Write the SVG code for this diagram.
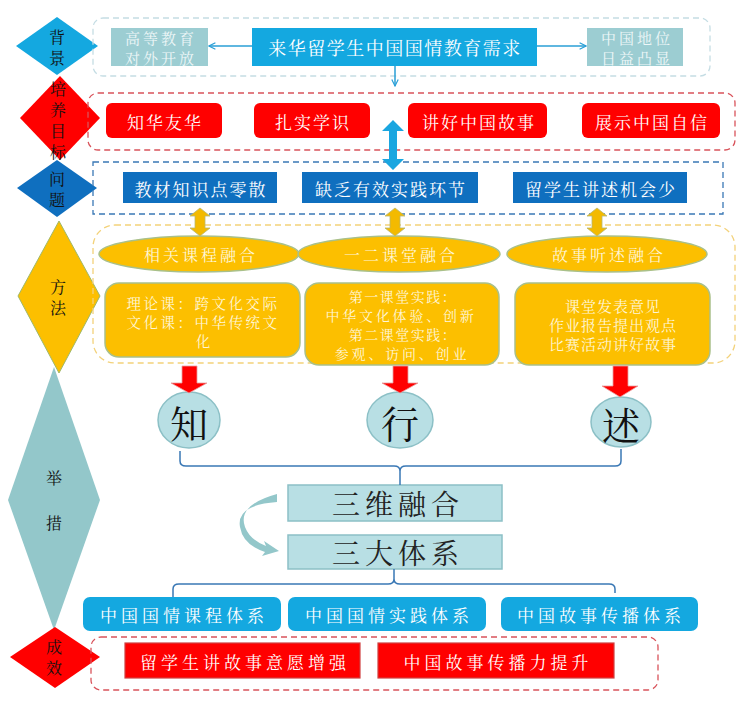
<svg xmlns="http://www.w3.org/2000/svg" width="748" height="705" viewBox="0 0 748 705">
<style>
text{font-family:"Noto Serif CJK SC","Noto Sans CJK SC",serif;text-anchor:middle;dominant-baseline:central}
.lbl{font-size:16px;fill:#111}
.w{fill:#fff}
.lt{fill:#eef7f8}
.ly{fill:#fff6d6}
.blue{fill:#14a8e0}
.teal{fill:#9ccdd2}
.red{fill:#ff0000}
.dblue{fill:#0f6fbf}
.yel{fill:#fcbf00}
.pale{fill:#b8dfe4;stroke:#8cc0c6;stroke-width:1.5}
.thin{fill:none;stroke:#2a9fd6;stroke-width:1.5}
.brace{fill:none;stroke:#3a78b5;stroke-width:1.5}
</style>
<defs>
<marker id="ah" viewBox="0 0 10 10" refX="9" refY="5" markerWidth="8" markerHeight="8" orient="auto-start-reverse" markerUnits="userSpaceOnUse">
<polyline points="1,1 9,5 1,9" fill="none" stroke="#2a9fd6" stroke-width="1.5"/>
</marker>
</defs>

<!-- left diamonds -->
<g id="d-beijing"><polygon points="57,17 98,46 57,75 16,46" class="blue"/><text x="57" y="36" class="lbl">背</text><text x="57" y="57" class="lbl">景</text></g>
<g id="d-peiyang"><polygon points="60,76 100,118 60,160 20,118" class="red"/><text x="58" y="88" class="lbl">培</text><text x="58" y="109" class="lbl">养</text><text x="58" y="130" class="lbl">目</text><text x="58" y="151" class="lbl">标</text></g>
<g id="d-wenti"><polygon points="57,160 97,188 57,217 17,188" class="dblue"/><text x="57" y="178" class="lbl">问</text><text x="57" y="199" class="lbl">题</text></g>
<g id="d-fangfa"><polygon points="59,221 100,296 59,373 18,296" class="yel" stroke="#9fb86a" stroke-width="1"/><text x="58" y="286" class="lbl">方</text><text x="58" y="307" class="lbl">法</text></g>
<g id="d-jucuo"><polygon points="54,367 100,500 54,630 8,500" fill="#93c7ca"/><text x="54" y="477" class="lbl">举</text><text x="54" y="522" class="lbl">措</text></g>
<g id="d-chengxiao"><polygon points="55,627 100,657 55,688 10,657" class="red"/><text x="54" y="646" class="lbl">成</text><text x="54" y="667" class="lbl">效</text></g>

<!-- group frames -->
<g id="frames" fill="none" stroke-width="1.3">
<rect x="93" y="18" width="617" height="58" rx="10" stroke="#c5dde4" stroke-dasharray="6,4"/>
<rect x="88" y="93" width="647" height="57" rx="10" stroke="#d9535b" stroke-dasharray="6,4"/>
<rect x="93" y="162" width="630" height="52" stroke="#3a78b5" stroke-dasharray="6,4"/>
<rect x="93" y="225" width="642" height="138" rx="22" stroke="#f3d27a" stroke-dasharray="6,4"/>
<rect x="91" y="637" width="567" height="53" rx="10" stroke="#d9535b" stroke-dasharray="6,4"/>
</g>

<!-- background -->
<g id="n-gaodeng"><rect x="111" y="28" width="97" height="38" class="teal"/><text x="161" y="37" font-size="15" class="lt" letter-spacing="3">高等教育</text><text x="161" y="57" font-size="15" class="lt" letter-spacing="3">对外开放</text></g>
<g id="n-xuqiu"><rect x="252" y="28" width="285" height="38" class="blue"/><text x="395" y="47" font-size="18" class="w" letter-spacing="1.5">来华留学生中国国情教育需求</text></g>
<g id="n-diwei"><rect x="587" y="28" width="96" height="38" class="teal"/><text x="637" y="37" font-size="15" class="lt" letter-spacing="3">中国地位</text><text x="637" y="57" font-size="15" class="lt" letter-spacing="3">日益凸显</text></g>

<!-- goals -->
<g id="n-zhihua"><rect x="106" y="103" width="116" height="35" rx="6" class="red"/><text x="165" y="121" font-size="17" class="w" letter-spacing="2">知华友华</text></g>
<g id="n-zhashi"><rect x="254" y="103" width="116" height="35" rx="6" class="red"/><text x="313" y="121" font-size="17" class="w" letter-spacing="2">扎实学识</text></g>
<g id="n-jianghao"><rect x="408" y="103" width="139" height="35" rx="6" class="red"/><text x="479" y="121" font-size="17" class="w" letter-spacing="2">讲好中国故事</text></g>
<g id="n-zhanshi"><rect x="582" y="103" width="138" height="35" rx="6" class="red"/><text x="652" y="121" font-size="17" class="w" letter-spacing="2">展示中国自信</text></g>

<!-- problems -->
<g id="n-lingsan"><rect x="123" y="172" width="154" height="31" class="dblue"/><text x="201" y="188" font-size="17" class="w" letter-spacing="2">教材知识点零散</text></g>
<g id="n-queshao"><rect x="302" y="172" width="176" height="31" class="dblue"/><text x="391" y="188" font-size="17" class="w" letter-spacing="2">缺乏有效实践环节</text></g>
<g id="n-jishao"><rect x="513" y="172" width="174" height="31" class="dblue"/><text x="601" y="188" font-size="17" class="w" letter-spacing="2">留学生讲述机会少</text></g>

<!-- methods -->
<g id="n-kecheng"><ellipse cx="199" cy="254" rx="100" ry="18" class="yel" stroke="#a9c08a" stroke-width="1.5"/><text x="201" y="254" font-size="16" class="ly" letter-spacing="3">相关课程融合</text></g>
<g id="n-ketang"><ellipse cx="399" cy="254" rx="101" ry="18" class="yel" stroke="#a9c08a" stroke-width="1.5"/><text x="401" y="254" font-size="16" class="ly" letter-spacing="3">一二课堂融合</text></g>
<g id="n-tingshu"><ellipse cx="607" cy="254" rx="100" ry="18" class="yel" stroke="#a9c08a" stroke-width="1.5"/><text x="609" y="254" font-size="16" class="ly" letter-spacing="3">故事听述融合</text></g>

<g id="n-box1"><rect x="105" y="283" width="195" height="74" rx="14" class="yel" stroke="#a9c08a" stroke-width="1.5"/>
<text x="203" y="302" font-size="14.5" class="ly" letter-spacing="2.5">理论课：跨文化交际</text>
<text x="203" y="321" font-size="14.5" class="ly" letter-spacing="2.5">文化课：中华传统文</text>
<text x="203" y="340" font-size="14.5" class="ly">化</text></g>
<g id="n-box2"><rect x="305" y="283" width="194" height="82" rx="14" class="yel" stroke="#a9c08a" stroke-width="1.5"/>
<text x="403" y="296" font-size="14" class="ly" letter-spacing="1.5">第一课堂实践：</text>
<text x="401" y="315" font-size="14" class="ly" letter-spacing="2.8">中华文化体验、创新</text>
<text x="403" y="334" font-size="14" class="ly" letter-spacing="1.5">第二课堂实践：</text>
<text x="402" y="353" font-size="14" class="ly" letter-spacing="2.8">参观、访问、创业</text></g>
<g id="n-box3"><rect x="515" y="283" width="195" height="82" rx="14" class="yel" stroke="#a9c08a" stroke-width="1.5"/>
<text x="613" y="305" font-size="15" class="ly" letter-spacing="1">课堂发表意见</text>
<text x="613" y="324" font-size="15" class="ly" letter-spacing="1">作业报告提出观点</text>
<text x="613" y="343" font-size="15" class="ly" letter-spacing="1">比赛活动讲好故事</text></g>

<!-- zhi xing shu -->
<g id="n-zhi"><ellipse cx="189" cy="420" rx="31" ry="28" class="pale"/><text x="189" y="421" font-size="38" fill="#111">知</text></g>
<g id="n-xing"><ellipse cx="400" cy="420" rx="33" ry="28" class="pale"/><text x="400" y="421" font-size="38" fill="#111">行</text></g>
<g id="n-shu"><ellipse cx="621" cy="422" rx="30" ry="25" class="pale"/><text x="621" y="423" font-size="38" fill="#111">述</text></g>

<g id="n-sanwei"><rect x="288" y="485" width="214" height="36" class="pale"/><text x="398" y="503" font-size="28" fill="#222" letter-spacing="5">三维融合</text></g>
<g id="n-sanda"><rect x="288" y="535" width="214" height="34" class="pale"/><text x="398" y="552" font-size="28" fill="#222" letter-spacing="5">三大体系</text></g>

<g id="n-sys1"><rect x="83" y="597" width="198" height="34" rx="7" class="blue"/><text x="184" y="614" font-size="17" class="w" letter-spacing="4">中国国情课程体系</text></g>
<g id="n-sys2"><rect x="288" y="597" width="198" height="34" rx="7" class="blue"/><text x="389" y="614" font-size="17" class="w" letter-spacing="4">中国国情实践体系</text></g>
<g id="n-sys3"><rect x="501" y="597" width="197" height="34" rx="7" class="blue"/><text x="601" y="614" font-size="17" class="w" letter-spacing="4">中国故事传播体系</text></g>

<g id="n-yiyuan"><rect x="125" y="643" width="235" height="35" class="red" stroke="#d04040" stroke-width="1.2"/><text x="245" y="661" font-size="17" class="w" letter-spacing="4">留学生讲故事意愿增强</text></g>
<g id="n-chuanbo"><rect x="378" y="643" width="236" height="35" class="red" stroke="#d04040" stroke-width="1.2"/><text x="498" y="661" font-size="17" class="w" letter-spacing="4">中国故事传播力提升</text></g>

<!-- connectors -->
<g id="connectors">
<line x1="252" y1="46" x2="209" y2="46" class="thin" marker-end="url(#ah)"/>
<line x1="537" y1="46" x2="586" y2="46" class="thin" marker-end="url(#ah)"/>
<line x1="395" y1="66" x2="395" y2="86" class="thin" marker-end="url(#ah)"/>
<polygon points="393,120 404,131 397,131 397,159 404,159 393,170 382,159 389,159 389,131 382,131" fill="#1aa6e0"/>
<g fill="#f3ba00" stroke="#b8b870" stroke-width="0.8">
<polygon points="200,208 210,216 205,216 205,228 210,228 200,236 190,228 195,228 195,216 190,216"/>
<polygon points="395,208 405,216 400,216 400,228 405,228 395,236 385,228 390,228 390,216 385,216"/>
<polygon points="597,208 607,216 602,216 602,228 607,228 597,236 587,228 592,228 592,216 587,216"/>
</g>
<g fill="#ff0000" stroke="#e8a0a0" stroke-width="0.8">
<polygon points="182,366 197,366 197,383 207,383 189,393 171,383 182,383"/>
<polygon points="393,366 408,366 408,383 418,383 400,393 382,383 393,383"/>
<polygon points="613,366 628,366 628,386 638,386 620,397 602,386 613,386"/>
</g>
<path d="M180,451 V461 Q180,466 186,466 H394 Q400,466 400,471 V485 M400,471 Q400,466 406,466 H615 Q621,466 621,461 V449" class="brace"/>
<path d="M394,569 V579 Q394,584 388,584 H179 Q173,584 173,589 V597 M394,579 Q394,584 400,584 H609 Q615,584 615,589 V593" class="brace"/>
<path d="M277,494 Q237,505 245,527 Q250,540 266,546 L264,541 L279,551 L262,556 L265,552 Q243,545 240,527 Q236,505 277,502 Z" fill="#93c7ca"/>
</g>
</svg>
